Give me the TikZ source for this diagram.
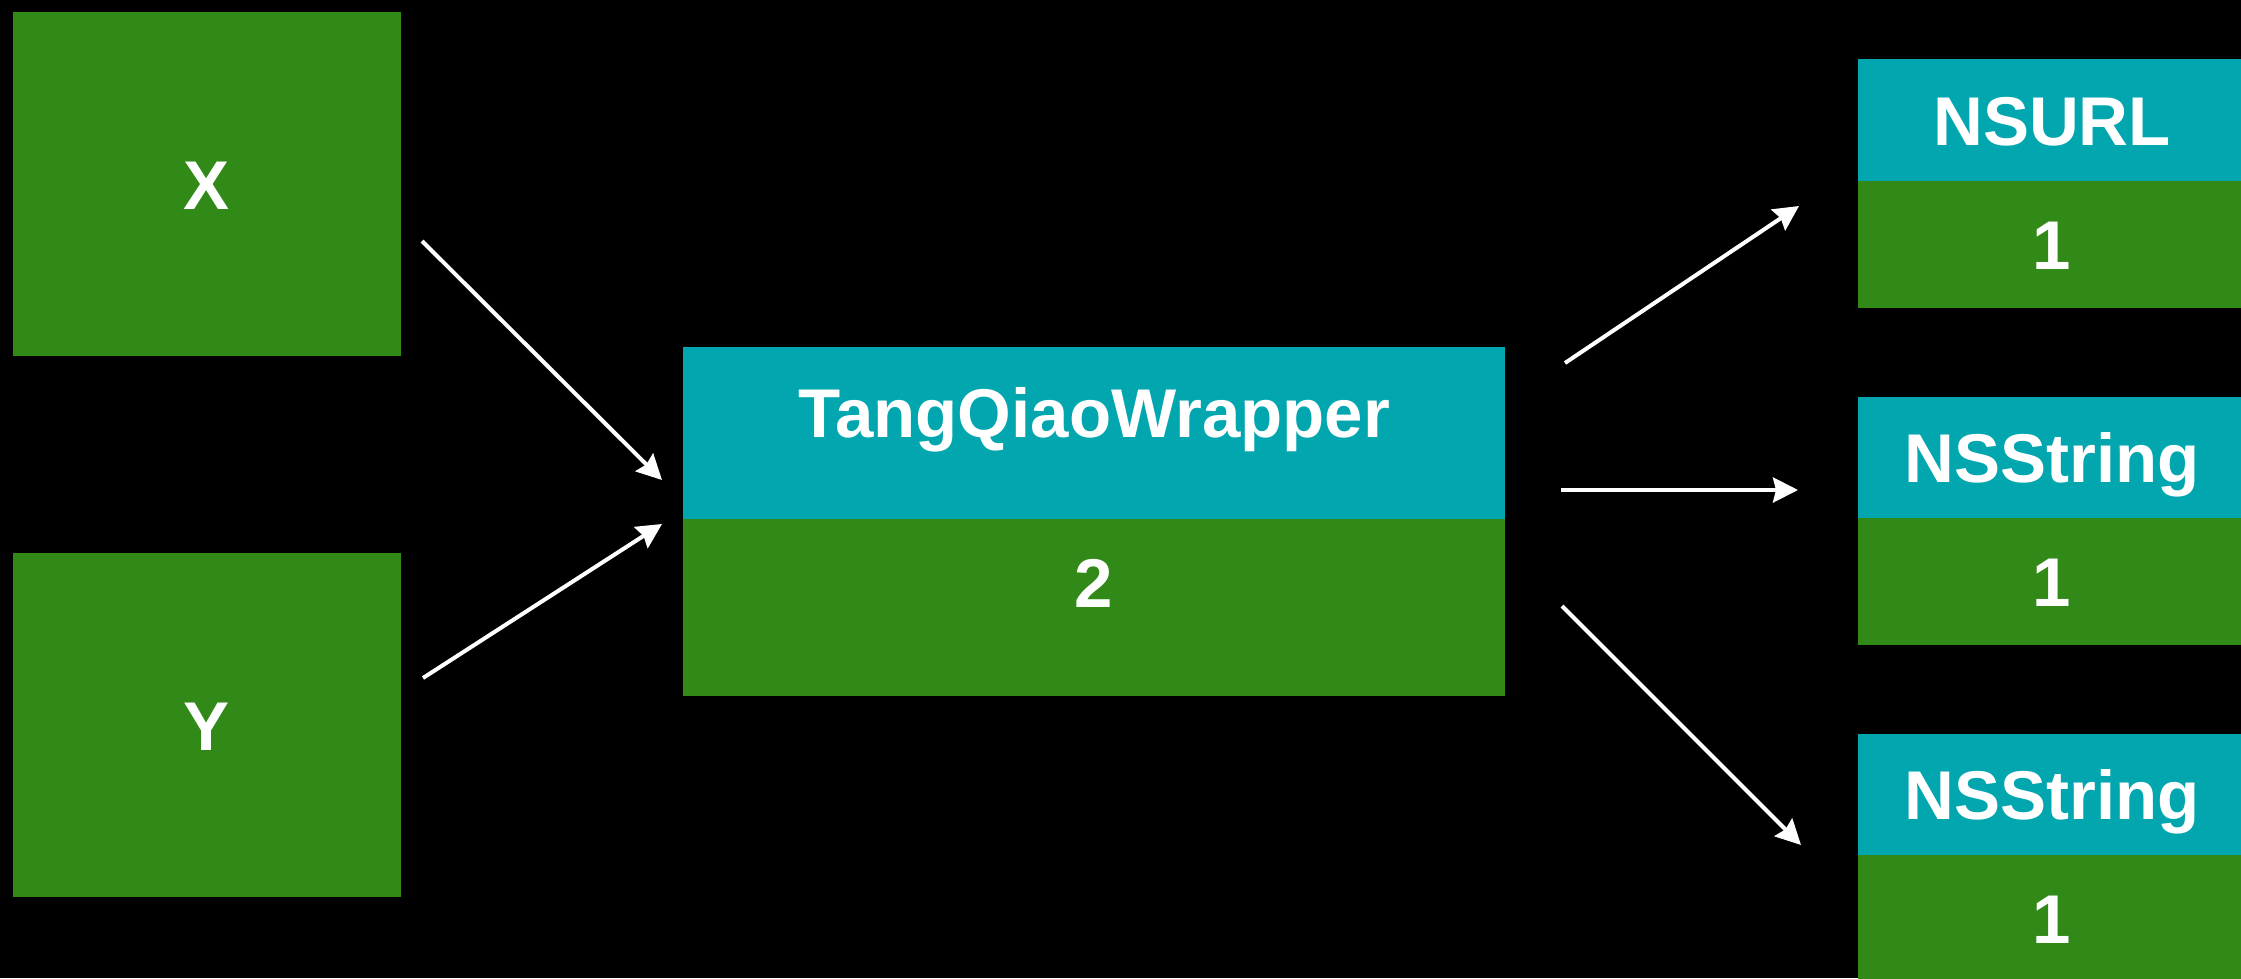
\documentclass[tikz,border=0pt]{standalone}
\usepackage{fontspec}
\setmainfont{Liberation Sans}
\usetikzlibrary{arrows.meta}
\definecolor{boxgreen}{RGB}{49,137,24}
\definecolor{boxteal}{RGB}{2,166,175}
\begin{document}
\begin{tikzpicture}[x=1pt,y=-1pt,
  box/.style={anchor=north west, inner sep=0pt, outer sep=0pt, text=white,
    font=\fontsize{69}{80}\selectfont\bfseries, text height=50pt, text depth=0pt, align=center},
  gbox/.style={box, fill=boxgreen},
  tbox/.style={box, fill=boxteal},
  arr/.style={draw=white, line width=4pt, -{Stealth[length=25pt,width=25pt,inset=3pt]}}]
\fill[black] (0,0) rectangle (2241,978);
\useasboundingbox (0,0) rectangle (2241,978);
\begin{scope}
\clip (0,0) rectangle (2241,978);
% left boxes
\node[gbox, minimum width=388pt, minimum height=344pt] (X) at (13,12) {X};
\node[gbox, minimum width=388pt, minimum height=344pt] (Y) at (13,553) {Y};
% middle box
\node[tbox, minimum width=822pt, minimum height=172pt, text depth=42pt] (mh) at (683,347) {TangQiaoWrapper};
\node[gbox, minimum width=822pt, minimum height=177pt, text depth=50pt] (mb) at (683,519) {2};
% right boxes
\node[tbox, minimum width=388pt, minimum height=122pt] (h1) at (1858,59) {NSURL};
\node[gbox, minimum width=388pt, minimum height=127pt] (b1) at (1858,181) {1};
\node[tbox, minimum width=388pt, minimum height=121pt] (h2) at (1858,397) {NSString};
\node[gbox, minimum width=388pt, minimum height=127pt] (b2) at (1858,518) {1};
\node[tbox, minimum width=388pt, minimum height=121pt] (h3) at (1858,734) {NSString};
\node[gbox, minimum width=388pt, minimum height=127pt] (b3) at (1858,855) {1};
\end{scope}
% arrows
\draw[arr] ([shift={(21,57)}]X.east) -- ([shift={(-21,47)}]mh.west);
\draw[arr] ([shift={(22,-47)}]Y.east) -- ([shift={(-21,5)}]mh.south west);
\draw[arr] ([shift={(60,-70)}]mh.east) -- ([shift={(-59,25)}]h1.south west);
\draw[arr] ([shift={(56,-29)}]mh.south east) -- ([shift={(-60,-28)}]h2.south west);
\draw[arr] ([shift={(57,-1.5)}]mb.east) -- ([shift={(-57,-10)}]h3.south west);
\end{tikzpicture}
\end{document}
